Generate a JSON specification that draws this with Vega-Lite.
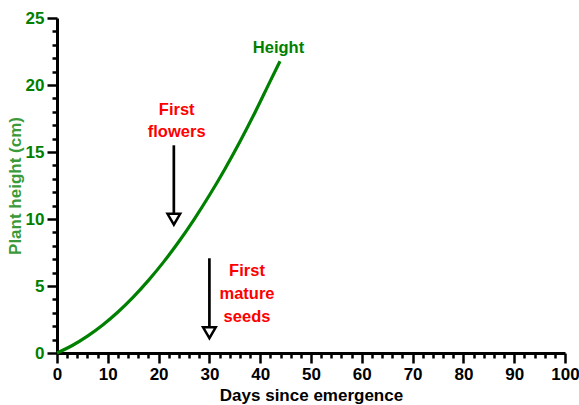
{
  "$schema": "https://vega.github.io/schema/vega-lite/v6.json",
  "width": 508,
  "height": 335,
  "autosize": "none",
  "padding": {"left": 57, "top": 18, "right": 14, "bottom": 52},
  "background": "white",
  "config": {"view": {"stroke": null}, "font": "Liberation Sans"},
  "resolve": {"axis": {"x": "independent", "y": "independent"}},
  "datasets": {
    "curve": [
      {"day": 0, "height": 0},
      {"day": 3, "height": 0.56},
      {"day": 6, "height": 1.26},
      {"day": 9, "height": 2.09},
      {"day": 12, "height": 3.06},
      {"day": 15, "height": 4.17},
      {"day": 18, "height": 5.42},
      {"day": 21, "height": 6.8},
      {"day": 24, "height": 8.32},
      {"day": 27, "height": 9.98},
      {"day": 30, "height": 11.77},
      {"day": 33, "height": 13.7},
      {"day": 36, "height": 15.77},
      {"day": 39, "height": 17.97},
      {"day": 42, "height": 20.31},
      {"day": 43.9, "height": 21.77}
    ],
    "arrows": [
      {"x": 23, "from": 15.5, "to": 10.3, "tip": 9.98},
      {"x": 30, "from": 7.07, "to": 1.85, "tip": 1.51}
    ],
    "labels": [
      {"x": 23.56, "y": 17.76, "text": "First", "kind": "event"},
      {"x": 23.56, "y": 16.14, "text": "flowers", "kind": "event"},
      {"x": 37.4, "y": 5.72, "text": "First", "kind": "event"},
      {"x": 37.4, "y": 4.0, "text": "mature", "kind": "event"},
      {"x": 37.4, "y": 2.29, "text": "seeds", "kind": "event"},
      {"x": 43.6, "y": 22.37, "text": "Height", "kind": "series"}
    ]
  },
  "layer": [
    {
      "data": {"name": "curve"},
      "mark": {"type": "line", "color": "#008000", "strokeWidth": 3.2, "interpolate": "monotone"},
      "encoding": {
        "x": {
          "field": "day",
          "type": "quantitative",
          "scale": {"domain": [0, 100], "nice": false, "zero": false},
          "axis": {
            "orient": "bottom",
            "values": [0, 10, 20, 30, 40, 50, 60, 70, 80, 90, 100],
            "tickSize": 10,
            "tickWidth": 2.5,
            "tickColor": "black",
            "domainColor": "black",
            "domainWidth": 3,
            "grid": false,
            "labelFont": "Liberation Sans",
            "labelFontSize": 17,
            "labelFontWeight": "bold",
            "labelColor": "black",
            "labelPadding": 3,
            "labelFlush": false,
            "labelOverlap": false,
            "title": "Days since emergence",
            "titleFont": "Liberation Sans",
            "titleFontSize": 17,
            "titleFontWeight": "bold",
            "titleColor": "black",
            "titlePadding": 5
          }
        },
        "y": {
          "field": "height",
          "type": "quantitative",
          "scale": {"domain": [0, 25], "nice": false},
          "axis": {
            "orient": "left",
            "values": [0, 5, 10, 15, 20, 25],
            "tickSize": 10,
            "tickWidth": 2.5,
            "tickColor": "black",
            "domainColor": "black",
            "domainWidth": 3,
            "grid": false,
            "labelFont": "Liberation Sans",
            "labelFontSize": 17,
            "labelFontWeight": "bold",
            "labelColor": "#008000",
            "labelPadding": 3,
            "labelFlush": false,
            "labelOverlap": false,
            "title": "Plant height (cm)",
            "titleFont": "Liberation Sans",
            "titleFontSize": 17,
            "titleFontWeight": "bold",
            "titleColor": "#3a9a3a",
            "titlePadding": 1
          }
        }
      }
    },
    {
      "data": {"name": "arrows"},
      "mark": {"type": "rule", "color": "black", "strokeWidth": 2.7},
      "encoding": {
        "x": {"field": "x", "type": "quantitative", "axis": null},
        "y": {"field": "from", "type": "quantitative", "axis": null},
        "y2": {"field": "to"}
      }
    },
    {
      "data": {"name": "arrows"},
      "mark": {"type": "point", "shape": "triangle-down", "size": 160, "filled": true, "fill": "white", "stroke": "black", "strokeWidth": 2.5, "opacity": 1},
      "encoding": {
        "x": {"field": "x", "type": "quantitative", "axis": null},
        "y": {"field": "tip", "type": "quantitative", "axis": null}
      }
    },
    {
      "data": {"name": "labels"},
      "mark": {"type": "text", "font": "Liberation Sans", "fontSize": 16.5, "fontWeight": "bold", "align": "center", "baseline": "alphabetic"},
      "encoding": {
        "x": {
          "field": "x",
          "type": "quantitative",
          "axis": {
            "orient": "bottom",
            "values": [2, 4, 6, 8, 12, 14, 16, 18, 22, 24, 26, 28, 32, 34, 36, 38, 42, 44, 46, 48, 52, 54, 56, 58, 62, 64, 66, 68, 72, 74, 76, 78, 82, 84, 86, 88, 92, 94, 96, 98],
            "labels": false,
            "domain": false,
            "grid": false,
            "tickSize": 5,
            "tickWidth": 2.5,
            "tickColor": "black",
            "title": null
          }
        },
        "y": {
          "field": "y",
          "type": "quantitative",
          "axis": {
            "orient": "left",
            "values": [1, 2, 3, 4, 6, 7, 8, 9, 11, 12, 13, 14, 16, 17, 18, 19, 21, 22, 23, 24],
            "labels": false,
            "domain": false,
            "grid": false,
            "tickSize": 5,
            "tickWidth": 2.5,
            "tickColor": "black",
            "title": null
          }
        },
        "text": {"field": "text"},
        "color": {"field": "kind", "type": "nominal", "scale": {"domain": ["event", "series"], "range": ["#ff0000", "#008000"]}, "legend": null}
      }
    }
  ]
}
